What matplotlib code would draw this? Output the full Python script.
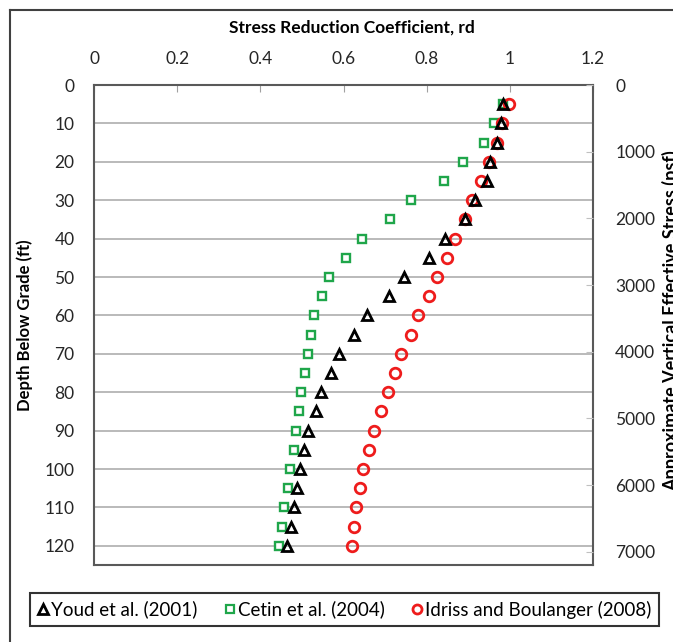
import numpy as np
import matplotlib
matplotlib.use("Agg")
import matplotlib.pyplot as plt
from matplotlib.lines import Line2D

plt.rcParams['font.family'] = ['Lato', 'DejaVu Sans']

# depth below grade (ft)
depth = [5, 10, 15, 20, 25, 30, 35, 40, 45, 50, 55, 60,
         65, 70, 75, 80, 85, 90, 95, 100, 105, 110, 115, 120]

# stress reduction coefficient rd for each method
rd_youd = [0.983, 0.979, 0.969, 0.953, 0.945, 0.916, 0.891, 0.845, 0.805, 0.745, 0.710, 0.656,
           0.626, 0.588, 0.570, 0.547, 0.533, 0.514, 0.506, 0.496, 0.488, 0.480, 0.473, 0.465]
rd_cetin = [0.983, 0.961, 0.939, 0.888, 0.841, 0.762, 0.713, 0.644, 0.605, 0.565, 0.548, 0.530,
            0.521, 0.514, 0.508, 0.498, 0.494, 0.486, 0.480, 0.471, 0.467, 0.457, 0.451, 0.444]
rd_idriss = [0.997, 0.981, 0.970, 0.949, 0.931, 0.909, 0.893, 0.868, 0.849, 0.824, 0.805, 0.779,
             0.762, 0.738, 0.724, 0.706, 0.691, 0.674, 0.662, 0.648, 0.640, 0.630, 0.626, 0.620]

x_ticks = [0, 0.2, 0.4, 0.6, 0.8, 1, 1.2]
x_ticklabels = ['0', '0.2', '0.4', '0.6', '0.8', '1', '1.2']
depth_ticks = list(range(0, 121, 10))
stress_ticks = list(range(0, 7001, 1000))

W, H = 673, 642
fig = plt.figure(figsize=(W / 100, H / 100), dpi=100)
ax = fig.add_axes([94 / W, 1 - 565 / H, (593 - 94) / W, (565 - 85) / H])

spine_c = '#595959'
grid_c = '#bababa'
txt_c = '#262626'

ax.set_xlim(0, 1.2)
ax.set_ylim(125, 0)
ax.xaxis.tick_top()
ax.xaxis.set_label_position('top')
ax.set_xticks(x_ticks)
ax.set_xticklabels(x_ticklabels)
ax.set_yticks(depth_ticks)
ax.yaxis.grid(True, color=grid_c, lw=1.4)
ax.set_axisbelow(True)
ax.tick_params(axis='x', direction='in', length=5, color='#a0a0a0', labelsize=12.5, pad=13, labelcolor=txt_c)
ax.tick_params(axis='y', length=0, labelsize=12.5, pad=14, labelcolor=txt_c)
for s in ax.spines.values():
    s.set_color(spine_c)
    s.set_linewidth(1.5)

ax.set_xlabel('Stress Reduction Coefficient, rd', fontsize=12.5, fontweight='bold')
ax.xaxis.set_label_coords((352 - 94) / 499, 1 + (85 - 33) / 480)
ax.set_ylabel('Depth Below Grade (ft)', fontsize=12, fontweight='bold')
ax.yaxis.set_label_coords((33 - 94) / 499, 0.5)

# secondary axis: approximate vertical effective stress
ax2 = ax.twinx()
ax2.set_ylim(7200, 0)
ax2.set_yticks(stress_ticks)
ax2.tick_params(axis='y', direction='in', length=5, color='#c0c0c0', labelsize=12.5, pad=16, labelcolor=txt_c)
for s in ax2.spines.values():
    s.set_visible(False)
ax2.set_ylabel('Approximate Vertical Effective Stress (psf)', fontsize=13, fontweight='bold')
ax2.yaxis.set_label_coords((662 - 94) / 499, 0.51)

ax.plot(rd_cetin, depth, ls='none', marker='s', ms=5.8, mfc='white', mec='#1fa64a', mew=1.7,
        zorder=3)
ax.plot(rd_idriss, depth, ls='none', marker='o', ms=7.6, mfc='none', mec='#ee1c1c', mew=2,
        zorder=4)
ax.plot(rd_youd, depth, ls='none', marker='^', ms=7.6, mfc='none', mec='black', mew=2,
        zorder=5)

handles = [
    Line2D([], [], ls='none', marker='^', ms=7.5, mfc='none', mec='black', mew=2),
    Line2D([], [], ls='none', marker='s', ms=5.5, mfc='white', mec='#1fa64a', mew=1.6),
    Line2D([], [], ls='none', marker='o', ms=6.5, mfc='none', mec='#ee1c1c', mew=2),
]
labels = ['Youd et al. (2001)', 'Cetin et al. (2004)', 'Idriss and Boulanger (2008)']
leg = fig.legend(handles, labels, loc='center', ncol=3, fontsize=13.5,
                 bbox_to_anchor=(18 / W, 1 - 633 / H, (671 - 18) / W, 47 / H),
                 frameon=True, fancybox=False, handlelength=0.6, handletextpad=0.15,
                 columnspacing=1.4, borderaxespad=0)
leg.get_frame().set_edgecolor('black')
leg.get_frame().set_linewidth(1.5)

# outer chart border
fig.add_artist(Line2D([10 / W, 10 / W], [0, 1 - 10 / H], transform=fig.transFigure,
                      color='#404040', lw=1.5))
fig.add_artist(Line2D([10 / W, 1], [1 - 10 / H, 1 - 10 / H], transform=fig.transFigure,
                      color='#404040', lw=1.5))

fig.savefig('out.png', dpi=100)
